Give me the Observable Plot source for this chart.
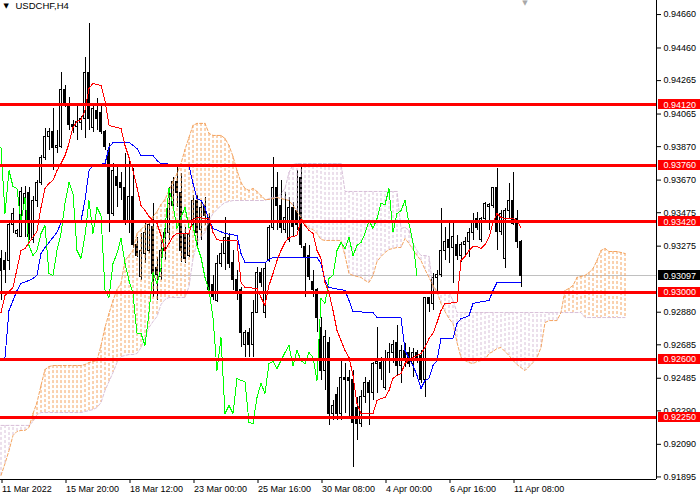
<!DOCTYPE html>
<html><head><meta charset="utf-8">
<script src="https://cdn.jsdelivr.net/npm/d3@7"></script>
<script src="https://cdn.jsdelivr.net/npm/@observablehq/plot@0.6"></script>
<style>
html,body{margin:0;padding:0;background:#fff;overflow:hidden;}
#chart svg{display:block;}
</style></head><body><div id="chart"></div>
<script>
const symbolTitle = "USDCHF,H4";

const open = [0.93201,0.93189,0.93189,0.93404,0.93345,0.93327,0.93530,0.93590,0.93309,0.93548,
0.93650,0.93805,0.93925,0.93955,0.93859,0.93865,0.94206,0.94116,0.94002,0.93985,
0.94014,0.94038,0.94313,0.93979,0.94086,0.94074,0.93955,0.93847,0.93470,0.93686,
0.93650,0.93620,0.93416,0.93566,0.93279,0.93088,0.93231,0.93249,0.93387,0.93147,
0.93088,0.93249,0.93351,0.93518,0.93656,0.93590,0.93339,0.93219,0.93399,0.93548,
0.93369,0.93518,0.93446,0.93040,0.92950,0.93171,0.93231,0.93321,0.93177,0.93070,
0.93010,0.92681,0.92753,0.92681,0.92878,0.93117,0.92878,0.93189,0.93381,0.93620,
0.93518,0.93369,0.93309,0.93506,0.93488,0.93680,0.93267,0.93219,0.93058,0.93010,
0.92783,0.92531,0.92693,0.92274,0.92382,0.92274,0.92484,0.92484,0.92472,0.92310,
0.92214,0.92370,0.92454,0.92394,0.92573,0.92579,0.92424,0.92591,0.92639,0.92693,
0.92561,0.92651,0.92639,0.92573,0.92639,0.92621,0.92472,0.92962,0.92932,0.93082,
0.93100,0.93249,0.93309,0.93261,0.93279,0.93219,0.93279,0.93297,0.93351,0.93440,
0.93309,0.93440,0.93512,0.93518,0.93620,0.93357,0.93201,0.93488,0.93548,0.93440,
0.93297];
const high = [0.93249,0.93237,0.93410,0.93500,0.93375,0.93626,0.93632,0.93626,0.93572,0.93668,
0.93817,0.93979,0.93979,0.94098,0.93967,0.94313,0.94236,0.94164,0.94026,0.94110,
0.94050,0.94403,0.94606,0.94128,0.94158,0.94128,0.93967,0.93889,0.93769,0.93745,
0.93715,0.93829,0.93787,0.93739,0.93327,0.93351,0.93428,0.93428,0.93530,0.93207,
0.93309,0.93410,0.93626,0.93686,0.93757,0.93709,0.93387,0.93369,0.93578,0.93578,
0.93548,0.93566,0.93470,0.93100,0.93219,0.93291,0.93446,0.93351,0.93249,0.93129,
0.93028,0.92771,0.92783,0.92950,0.93147,0.93141,0.93177,0.93399,0.93805,0.93715,
0.93668,0.93596,0.93566,0.93536,0.93727,0.93745,0.93291,0.93279,0.93129,0.93022,
0.92848,0.92771,0.92729,0.92352,0.92430,0.92591,0.92573,0.92531,0.92531,0.92370,
0.92412,0.92490,0.92472,0.92579,0.92789,0.92609,0.92651,0.92693,0.92711,0.92801,
0.92681,0.92693,0.92669,0.92663,0.92651,0.92651,0.92968,0.92968,0.93111,0.93129,
0.93500,0.93387,0.93410,0.93428,0.93339,0.93297,0.93327,0.93381,0.93470,0.93476,
0.93446,0.93536,0.93530,0.93626,0.93739,0.93488,0.93500,0.93650,0.93715,0.93488,
0.93309];
const low = [0.92950,0.93052,0.93129,0.93351,0.93327,0.93327,0.93327,0.93309,0.93291,0.93506,
0.93638,0.93787,0.93847,0.93727,0.93829,0.93859,0.94104,0.93967,0.93949,0.93907,
0.93967,0.93919,0.93967,0.93955,0.93967,0.93943,0.93847,0.93357,0.93452,0.93506,
0.93548,0.93399,0.93351,0.93261,0.93207,0.93070,0.93171,0.93231,0.92968,0.92950,
0.93070,0.93189,0.93309,0.93488,0.93506,0.93177,0.93171,0.93207,0.93369,0.93279,
0.93309,0.93399,0.92980,0.92950,0.92938,0.93147,0.93129,0.93141,0.93010,0.92950,
0.92669,0.92609,0.92609,0.92609,0.92872,0.93028,0.92842,0.93177,0.93369,0.93369,
0.93351,0.93351,0.93297,0.93327,0.93369,0.93261,0.92968,0.93070,0.92968,0.92759,
0.92472,0.92412,0.92203,0.92232,0.92232,0.92232,0.92274,0.92250,0.91951,0.92113,
0.92191,0.92334,0.92203,0.92352,0.92394,0.92472,0.92412,0.92513,0.92573,0.92502,
0.92454,0.92549,0.92549,0.92490,0.92573,0.92454,0.92370,0.92878,0.92890,0.92992,
0.93088,0.93189,0.93171,0.93052,0.93189,0.93177,0.93219,0.93207,0.93309,0.93369,
0.93297,0.93428,0.93369,0.93500,0.93249,0.93339,0.93141,0.93440,0.93399,0.93261,
0.93028];
const close = [0.93129,0.93135,0.93399,0.93470,0.93363,0.93596,0.93584,0.93327,0.93548,0.93650,
0.93805,0.93925,0.93955,0.93859,0.93871,0.94206,0.94128,0.93997,0.93985,0.94020,
0.94038,0.94313,0.94038,0.94098,0.94038,0.93955,0.93865,0.93470,0.93727,0.93632,
0.93620,0.93416,0.93566,0.93279,0.93219,0.93249,0.93351,0.93399,0.93111,0.93100,
0.93249,0.93351,0.93530,0.93656,0.93590,0.93249,0.93201,0.93339,0.93548,0.93351,
0.93506,0.93458,0.93010,0.92968,0.93171,0.93231,0.93321,0.93171,0.93070,0.92992,
0.92753,0.92753,0.92681,0.92878,0.93117,0.93052,0.93141,0.93381,0.93620,0.93518,
0.93381,0.93446,0.93506,0.93387,0.93399,0.93279,0.93207,0.93088,0.93010,0.92848,
0.92531,0.92729,0.92274,0.92322,0.92274,0.92484,0.92472,0.92466,0.92220,0.92214,
0.92370,0.92454,0.92394,0.92573,0.92585,0.92543,0.92591,0.92639,0.92681,0.92561,
0.92651,0.92591,0.92573,0.92639,0.92609,0.92472,0.92962,0.92932,0.93082,0.93100,
0.93249,0.93297,0.93261,0.93327,0.93219,0.93279,0.93297,0.93351,0.93428,0.93381,
0.93440,0.93530,0.93524,0.93620,0.93357,0.93470,0.93488,0.93548,0.93410,0.93297,
0.93097];

// Senkou Span A / B, one value per bar (cloud is shifted 26 bars ahead)
const senkouA = [0.91904,0.91975,0.92053,0.92143,0.92167,0.92173,0.92173,0.92191,0.92274,0.92340,
0.92442,0.92537,0.92555,0.92561,0.92561,0.92561,0.92561,0.92561,0.92561,0.92561,
0.92561,0.92567,0.92579,0.92585,0.92591,0.92681,0.92789,0.92872,0.92950,0.93016,
0.93052,0.93189,0.93219,0.93249,0.93351,0.93375,0.93399,0.93422,0.93452,0.93482,
0.93524,0.93554,0.93608,0.93662,0.93709,0.93769,0.93853,0.93925,0.93997,0.94009,
0.94009,0.94009,0.93949,0.93937,0.93937,0.93937,0.93919,0.93877,0.93811,0.93727,
0.93656,0.93620,0.93608,0.93620,0.93602,0.93578,0.93554,0.93554,0.93560,0.93566,
0.93560,0.93554,0.93548,0.93518,0.93482,0.93446,0.93410,0.93381,0.93375,0.93351,
0.93315,0.93309,0.93309,0.93309,0.93309,0.93309,0.93219,0.93111,0.93100,0.93094,
0.93088,0.93070,0.93058,0.93100,0.93183,0.93213,0.93237,0.93255,0.93261,0.93267,
0.93267,0.93321,0.93291,0.93255,0.93219,0.93189,0.93135,0.93088,0.93040,0.93004,
0.92932,0.92884,0.92842,0.92812,0.92699,0.92609,0.92591,0.92579,0.92573,0.92585,
0.92591,0.92597,0.92633,0.92645,0.92663,0.92669,0.92645,0.92621,0.92591,0.92567,
0.92549,0.92531,0.92555,0.92579,0.92609,0.92669,0.92818,0.92830,0.92830,0.92830,
0.92878,0.93010,0.93022,0.93040,0.93088,0.93094,0.93100,0.93117,0.93141,0.93189,
0.93249,0.93261,0.93243,0.93243,0.93243,0.93237,0.93231];
const senkouB = [0.92203,0.92203,0.92203,0.92203,0.92203,0.92203,0.92203,0.92203,0.92226,0.92268,
0.92280,0.92280,0.92280,0.92280,0.92280,0.92280,0.92280,0.92280,0.92280,0.92280,
0.92280,0.92286,0.92292,0.92298,0.92310,0.92340,0.92412,0.92466,0.92519,0.92579,
0.92615,0.92621,0.92627,0.92627,0.92633,0.92669,0.92729,0.92789,0.92824,0.92854,
0.92926,0.92956,0.92968,0.92968,0.92968,0.92968,0.92968,0.93034,0.93201,0.93297,
0.93333,0.93357,0.93428,0.93470,0.93494,0.93518,0.93536,0.93542,0.93548,0.93548,
0.93548,0.93548,0.93548,0.93548,0.93548,0.93548,0.93548,0.93560,0.93566,0.93566,
0.93590,0.93620,0.93715,0.93763,0.93769,0.93769,0.93769,0.93769,0.93769,0.93769,
0.93769,0.93769,0.93769,0.93769,0.93769,0.93769,0.93602,0.93602,0.93602,0.93602,
0.93602,0.93602,0.93602,0.93602,0.93602,0.93602,0.93602,0.93602,0.93602,0.93602,
0.93381,0.93387,0.93369,0.93291,0.93249,0.93219,0.93219,0.93213,0.93022,0.93004,
0.92992,0.92998,0.92998,0.92950,0.92878,0.92878,0.92878,0.92878,0.92878,0.92878,
0.92878,0.92878,0.92878,0.92878,0.92878,0.92878,0.92878,0.92878,0.92878,0.92878,
0.92878,0.92878,0.92878,0.92878,0.92878,0.92878,0.92878,0.92878,0.92878,0.92878,
0.92878,0.92878,0.92878,0.92878,0.92878,0.92878,0.92848,0.92848,0.92848,0.92848,
0.92848,0.92848,0.92848,0.92848,0.92848,0.92848,0.92848];

// Tenkan-sen (red) and Kijun-sen (blue): bar index and value read at each turning point
const tenkanBar = [0,1,3,5,6,7,9,10,11,12,13,14,15,16,17,18,19,20,21,22,23,25,26,27,30,31,32,33,34,35,36,37,38,39,40,41,42,43,44,47,48,49,52,53,54,55,59,60,61,64,65,66,67,68,69,70,71,72,74,75,76,77,78,79,80,81,82,83,84,85,86,87,88,89,90,93,94,95,96,97,98,99,100,101,102,103,104,105,106,107,108,109,110,111,114,115,116,117,118,119,120,121,122,123,124,125,126,128,129,130];
const tenkanVal = [0.92878,0.92980,0.93028,0.93249,0.93261,0.93297,0.93363,0.93506,0.93620,0.93650,0.93668,0.93727,0.93769,0.93817,0.93889,0.93985,0.94020,0.94032,0.94086,0.94218,0.94248,0.94236,0.94146,0.93997,0.93979,0.93877,0.93805,0.93727,0.93626,0.93518,0.93488,0.93452,0.93428,0.93410,0.93339,0.93249,0.93291,0.93333,0.93351,0.93351,0.93434,0.93446,0.93440,0.93357,0.93315,0.93309,0.93309,0.93058,0.93028,0.93022,0.92968,0.92920,0.93040,0.93111,0.93189,0.93249,0.93297,0.93327,0.93339,0.93434,0.93399,0.93369,0.93351,0.93249,0.93201,0.93058,0.92998,0.92890,0.92771,0.92711,0.92651,0.92609,0.92502,0.92334,0.92274,0.92274,0.92352,0.92364,0.92370,0.92412,0.92484,0.92502,0.92513,0.92573,0.92597,0.92609,0.92621,0.92633,0.92669,0.92723,0.92753,0.92818,0.92890,0.92932,0.92938,0.93189,0.93213,0.93249,0.93273,0.93273,0.93261,0.93285,0.93327,0.93416,0.93470,0.93446,0.93440,0.93440,0.93428,0.93387];
const kijunBar = [0,1,2,3,4,5,7,8,9,10,11,12,13,14,15,20,21,22,23,26,27,28,32,33,34,35,38,39,40,47,48,49,50,51,52,53,56,59,60,61,66,67,68,79,80,81,82,86,87,88,93,94,100,101,102,103,104,105,106,107,108,109,110,113,114,115,116,117,118,119,122,123,124,130];
const kijunVal = [0.92591,0.92609,0.92890,0.92950,0.93010,0.93052,0.93070,0.93082,0.93100,0.93231,0.93267,0.93297,0.93327,0.93357,0.93416,0.93428,0.93548,0.93727,0.93757,0.93769,0.93865,0.93895,0.93895,0.93877,0.93859,0.93817,0.93817,0.93787,0.93769,0.93757,0.93650,0.93560,0.93548,0.93506,0.93428,0.93381,0.93351,0.93339,0.93231,0.93177,0.93177,0.93195,0.93207,0.93207,0.93171,0.93070,0.93028,0.93010,0.92950,0.92884,0.92878,0.92848,0.92848,0.92651,0.92603,0.92561,0.92502,0.92424,0.92472,0.92484,0.92561,0.92591,0.92723,0.92723,0.92812,0.92842,0.92848,0.92860,0.92932,0.92938,0.92950,0.93010,0.93058,0.93058];
const chikouShift = 26;

const levels = [0.94120,0.93760,0.93420,0.93000,0.92600,0.92250];
const lastPrice = 0.93097;
const yTicks = [0.94660,0.94460,0.94265,0.94065,0.93870,0.93670,0.93475,0.93275,0.92880,0.92685,0.92485,0.92290,0.92090,0.91895];
const xTickBars = [0,16,32,48,64,80,96,112,128];
const xTickLabels = ["11 Mar 2022","15 Mar 20:00","18 Mar 12:00","23 Mar 00:00","25 Mar 16:00","30 Mar 08:00","4 Apr 00:00","6 Apr 16:00","11 Apr 08:00"];

const xDomain = [-0.125, 163.875];
const yDomain = [0.918796, 0.94744];

const candles = open.map((o, i) => ({i, o, h: high[i], l: low[i], c: close[i]}));
const cloud = senkouA.map((a, k) => ({k, a, b: senkouB[k]}));
const cloudUp = cloud.filter(d => d.a > d.b);
const cloudDown = cloud.filter(d => d.a <= d.b);
const tenkan = tenkanBar.map((i, j) => ({i, v: tenkanVal[j]}));
const kijun = kijunBar.map((i, j) => ({i, v: kijunVal[j]}));
const chikou = close.slice(chikouShift).map((v, i) => ({i, v}));
const fmt5 = d3.format(".5f");
const SANDY = "#f4a460", THISTLE = "#d8bfd8";
const crisp = {shapeRendering: "crispEdges"};

const chart = Plot.plot({
  width: 700, height: 500,
  marginTop: 0, marginRight: 44, marginBottom: 21, marginLeft: 0,
  x: {type: "linear", domain: xDomain},
  y: {type: "linear", domain: yDomain},
  style: {fontFamily: "'Liberation Sans', Arial, sans-serif", fontSize: "9px", background: "#fff", color: "#000", overflow: "hidden"},
  marks: [
    Plot.ruleY([lastPrice], {stroke: "#c0c0c0", strokeWidth: 1, ...crisp}),
    // candles
    Plot.ruleX(candles, {x: "i", y1: "l", y2: "h", stroke: "#000", strokeWidth: 1, ...crisp}),
    Plot.rect(candles.filter(d => d.c >= d.o), {x1: d => d.i - 0.25, x2: d => d.i + 0.25, y1: "o", y2: "c", fill: "#fff", stroke: "#000", strokeWidth: 1, ...crisp}),
    Plot.rect(candles.filter(d => d.c < d.o), {x1: d => d.i - 0.25, x2: d => d.i + 0.25, y1: "o", y2: "c", fill: "#000", stroke: "#000", strokeWidth: 1, ...crisp}),
    // kumo (vertical dotted hatching between the two spans)
    Plot.ruleX(cloudUp, {x: "k", y1: "a", y2: "b", stroke: SANDY, strokeWidth: 1, strokeDasharray: "3 2"}),
    Plot.ruleX(cloudDown, {x: "k", y1: "a", y2: "b", stroke: THISTLE, strokeWidth: 1, strokeDasharray: "3 2"}),
    Plot.line(cloud, {x: "k", y: "b", stroke: THISTLE, strokeWidth: 1, strokeDasharray: "3 2"}),
    Plot.line(cloud, {x: "k", y: "a", stroke: SANDY, strokeWidth: 1, strokeDasharray: "3 2"}),
    // lines
    Plot.line(chikou, {x: "i", y: "v", stroke: "#00ff00", strokeWidth: 1, ...crisp}),
    Plot.line(kijun, {x: "i", y: "v", stroke: "#0000ff", strokeWidth: 1, ...crisp}),
    Plot.line(tenkan, {x: "i", y: "v", stroke: "#ff0000", strokeWidth: 1, ...crisp}),
    // horizontal levels
    Plot.ruleY(levels, {stroke: "#ff0000", strokeWidth: 3, ...crisp}),
    // frame
    Plot.ruleX([xDomain[1]], {stroke: "#000", ...crisp}),
    Plot.ruleY([yDomain[0]], {stroke: "#000", ...crisp}),
    // axes
    Plot.axisY(yTicks, {anchor: "right", tickSize: 4, tickPadding: 3, tickFormat: fmt5, fontSize: 9, fill: "#000", stroke: "#000"}),
    Plot.axisX(xTickBars, {anchor: "bottom", tickSize: 4, tickPadding: 2, textAnchor: "start", dx: 1,
      tickFormat: d => xTickLabels[xTickBars.indexOf(d)], fontSize: 9, fill: "#000", stroke: "#000"}),
    // price label boxes
    Plot.rect(levels, {x1: xDomain[1] + 0.5, x2: xDomain[1] + 11, y1: d => d - 0.0003, y2: d => d + 0.0003, fill: "#ff0000", ...crisp}),
    Plot.text(levels, {x: xDomain[1], y: d => d, dx: 7, text: fmt5, textAnchor: "start", fill: "#fff", fontSize: 9}),
    Plot.rect([lastPrice], {x1: xDomain[1] + 0.5, x2: xDomain[1] + 11, y1: d => d - 0.0003, y2: d => d + 0.0003, fill: "#000", ...crisp}),
    Plot.text([lastPrice], {x: xDomain[1], y: d => d, dx: 7, text: fmt5, textAnchor: "start", fill: "#fff", fontSize: 9}),
    // title and markers
    Plot.text([symbolTitle], {frameAnchor: "top-left", dx: 15, dy: 2, lineAnchor: "top", textAnchor: "start", fontSize: 9.5, fill: "#000"}),
    Plot.text(["\u25BC"], {frameAnchor: "top-left", dx: 3, dy: 3, lineAnchor: "top", textAnchor: "start", fontSize: 7, fill: "#000", fontFamily: "DejaVu Sans"}),
    Plot.text([close.length], {x: d => d, frameAnchor: "top", text: () => "\u25BC", lineAnchor: "top", dy: 0, fontSize: 7, fill: "#a8a8a8", fontFamily: "DejaVu Sans"})
  ]
});
document.getElementById("chart").appendChild(chart);
</script></body></html>
